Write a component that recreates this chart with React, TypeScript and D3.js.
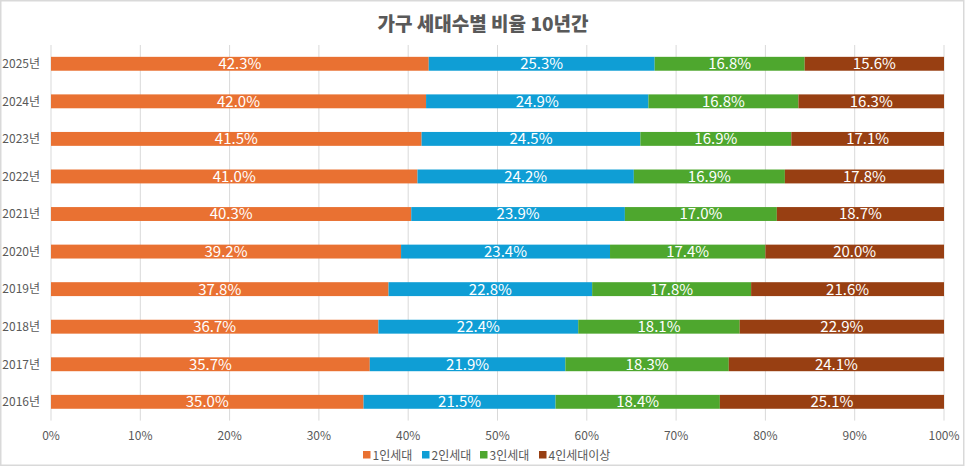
import React, { useEffect, useRef } from 'react';
import * as d3 from 'd3';

// years, top to bottom as drawn
const years: string[] = ['2025년', '2024년', '2023년', '2022년', '2021년', '2020년', '2019년', '2018년', '2017년', '2016년'];
const seriesNames: string[] = ['1인세대', '2인세대', '3인세대', '4인세대이상'];
const colors: string[] = ['#E97132', '#0F9ED5', '#4EA72E', '#983F12'];

const onePerson: number[] = [42.3, 42.0, 41.5, 41.0, 40.3, 39.2, 37.8, 36.7, 35.7, 35.0];
const twoPerson: number[] = [25.3, 24.9, 24.5, 24.2, 23.9, 23.4, 22.8, 22.4, 21.9, 21.5];
const threePerson: number[] = [16.8, 16.8, 16.9, 16.9, 17.0, 17.4, 17.8, 18.1, 18.3, 18.4];
const fourPlus: number[] = [15.6, 16.3, 17.1, 17.8, 18.7, 20.0, 21.6, 22.9, 24.1, 25.1];

const xTicks: number[] = [0, 0.1, 0.2, 0.3, 0.4, 0.5, 0.6, 0.7, 0.8, 0.9, 1];

const FONT = '"Noto Sans CJK KR", "Noto Sans", sans-serif';

const App: React.FC = () => {
    const chartRef = useRef<SVGSVGElement>(null);

    useEffect(() => {
        if (!chartRef.current) return;

        const svg = d3.select(chartRef.current);
        svg.selectAll('*').remove();

        const W = 966;
        const H = 467;
        const margin = { top: 45, right: 22, bottom: 46.4, left: 51 };
        const width = W - margin.left - margin.right;
        const height = H - margin.top - margin.bottom;

        // one row per year, keyed by series name
        const rows = years.map((year, i) => ({
            year,
            '1인세대': onePerson[i],
            '2인세대': twoPerson[i],
            '3인세대': threePerson[i],
            '4인세대이상': fourPlus[i],
        }));

        // outer frame
        svg.append('rect')
            .attr('x', 0.75).attr('y', 0.75)
            .attr('width', W - 3).attr('height', H - 2.5)
            .attr('fill', '#fff')
            .attr('stroke', '#d9d9d9')
            .attr('stroke-width', 1.5);

        svg.append('text')
            .attr('x', 483)
            .attr('y', 31)
            .attr('text-anchor', 'middle')
            .attr('font-family', FONT)
            .attr('font-size', 19)
            .attr('font-weight', 900)
            .attr('fill', '#595959')
            .text('가구 세대수별 비율 10년간');

        const g = svg.append('g')
            .attr('transform', `translate(${margin.left},${margin.top})`);

        const x = d3.scaleLinear().domain([0, 1]).range([0, width]);
        const y = d3.scaleBand().domain(years).range([0, height]).paddingInner(0.63).paddingOuter(0.315);

        // gridlines
        g.selectAll('line.grid')
            .data(xTicks)
            .enter().append('line')
            .attr('class', 'grid')
            .attr('x1', d => x(d)).attr('x2', d => x(d))
            .attr('y1', 0).attr('y2', height)
            .attr('stroke', '#d9d9d9')
            .attr('stroke-width', 1);

        // 100% stacked
        const stack = d3.stack<any>()
            .keys(seriesNames)
            .offset(d3.stackOffsetExpand);
        const layers = stack(rows);

        const layer = g.selectAll('g.layer')
            .data(layers)
            .enter().append('g')
            .attr('class', 'layer')
            .attr('fill', (_, i) => colors[i]);

        layer.selectAll('rect')
            .data(d => d)
            .enter().append('rect')
            .attr('x', d => x(d[0]))
            .attr('y', d => y(d.data.year)!)
            .attr('width', d => x(d[1]) - x(d[0]))
            .attr('height', y.bandwidth());

        // value labels
        layers.forEach(ly => {
            g.selectAll(null)
                .data(ly)
                .enter().append('text')
                .attr('x', d => (x(d[0]) + x(d[1])) / 2)
                .attr('y', d => y(d.data.year)! + y.bandwidth() / 2)
                .attr('dy', '0.36em')
                .attr('text-anchor', 'middle')
                .attr('font-family', FONT)
                .attr('font-size', 15)
                .attr('fill', '#fff')
                .text(d => `${(d.data[ly.key] as number).toFixed(1)}%`);
        });

        // category labels
        g.selectAll('text.cat')
            .data(years)
            .enter().append('text')
            .attr('class', 'cat')
            .attr('x', -11)
            .attr('y', d => y(d)! + y.bandwidth() / 2)
            .attr('dy', '0.36em')
            .attr('text-anchor', 'end')
            .attr('font-family', FONT)
            .attr('font-size', 12)
            .attr('fill', '#595959')
            .text(d => d);

        // x tick labels
        g.selectAll('text.tick')
            .data(xTicks)
            .enter().append('text')
            .attr('class', 'tick')
            .attr('x', d => x(d))
            .attr('y', height + 19)
            .attr('text-anchor', 'middle')
            .attr('font-family', FONT)
            .attr('font-size', 12)
            .attr('fill', '#595959')
            .text(d => d3.format('.0%')(d));

        // legend
        const legendX = [363, 422, 480, 539];
        const legend = svg.append('g');
        seriesNames.forEach((name, i) => {
            legend.append('rect')
                .attr('x', legendX[i]).attr('y', 451)
                .attr('width', 7.5).attr('height', 7.5)
                .attr('fill', colors[i]);
            legend.append('text')
                .attr('x', legendX[i] + 9.5)
                .attr('y', 459.5)
                .attr('font-family', FONT)
                .attr('font-size', 12)
                .attr('fill', '#595959')
                .text(name);
        });
    }, []);

    return (
        <div style={{ position: 'absolute', left: 0, top: 0 }}>
            <svg ref={chartRef} width="966" height="467"></svg>
        </div>
    );
};

export default App;
